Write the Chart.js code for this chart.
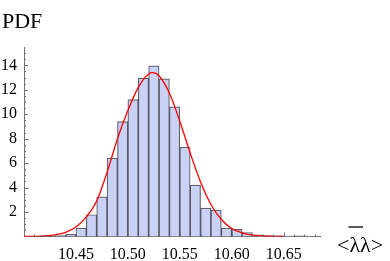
<!DOCTYPE html>
<html>
<head>
<meta charset="utf-8">
<script src="https://cdn.jsdelivr.net/npm/chart.js@4.4.1/dist/chart.umd.min.js"></script>
<style>
  html, body { margin: 0; padding: 0; background: #fff; }
  canvas { display: block; }
</style>
</head>
<body>
<canvas id="chart" width="390" height="261"></canvas>
<script>
// histogram bins (centre of each 0.01 wide bin) and heights
const binCenters = [10.435, 10.445, 10.455, 10.465, 10.475, 10.485, 10.495, 10.505, 10.515, 10.525,
  10.535, 10.545, 10.555, 10.565, 10.575, 10.585, 10.595, 10.605, 10.615, 10.625,
  10.635, 10.645, 10.655, 10.665, 10.675];
const binHeights = [0.08, 0.17, 0.68, 1.78, 3.24, 6.4, 9.4, 11.2, 12.95, 13.95,
  12.9, 10.6, 7.3, 4.2, 2.33, 2.15, 0.68, 0.58, 0.33, 0.14,
  0.08, 0.05, 0.04, 0.05, 0.04];

// fitted PDF curve
const curveX = [10.40, 10.41, 10.42, 10.43, 10.44, 10.45, 10.46, 10.47, 10.48, 10.49, 10.50, 10.51,
  10.52, 10.524, 10.53, 10.54, 10.55, 10.56, 10.57, 10.58, 10.59, 10.60, 10.61, 10.62, 10.63, 10.64, 10.65];
const curveY = [0.005, 0.016, 0.05, 0.14, 0.34, 0.78, 1.6, 2.9, 5.25, 8.0, 10.3, 12.2,
  13.3, 13.4, 13.15, 11.73, 9.43, 6.83, 4.46, 2.62, 1.39, 0.66, 0.29, 0.11, 0.04, 0.012, 0.004];

const xTicks = [10.45, 10.50, 10.55, 10.60, 10.65];
const yTicks = [2, 4, 6, 8, 10, 12, 14];

const serif = "'Liberation Serif', 'DejaVu Serif', serif";
const axisColor = "#707070";

// tick marks drawn inside the frame, plus the two axis labels
const decorations = {
  id: "decorations",
  afterDraw(chart) {
    const ctx = chart.ctx;
    const x = chart.scales.x, y = chart.scales.y;
    const left = chart.chartArea.left, bottom = chart.chartArea.bottom;
    ctx.save();
    ctx.strokeStyle = axisColor;
    ctx.lineWidth = 1;
    ctx.beginPath();
    for (let v = 0.5; v <= 15.01; v += 0.5) {
      const py = Math.round(y.getPixelForValue(v)) + 0.5;
      const len = Math.abs(v % 2) < 1e-6 ? 4 : 2;
      ctx.moveTo(left, py);
      ctx.lineTo(left + len, py);
    }
    for (let i = 41; i <= 68; i++) {
      const px = Math.round(x.getPixelForValue(10 + i / 100)) + 0.5;
      const len = i % 5 === 0 ? 4 : 2;
      ctx.moveTo(px, bottom);
      ctx.lineTo(px, bottom - len);
    }
    ctx.stroke();

    ctx.fillStyle = "#000";
    ctx.textBaseline = "alphabetic";
    ctx.textAlign = "left";
    ctx.font = "22px " + serif;
    ctx.fillText("PDF", 2, 28);

    ctx.font = "22px " + serif;
    const lx = 337, ly = 252;
    ctx.fillText("<λλ>", lx, ly);
    const w1 = ctx.measureText("<").width;
    const w2 = ctx.measureText("<λ").width;
    ctx.strokeStyle = "#000";
    ctx.lineWidth = 1.3;
    ctx.beginPath();
    ctx.moveTo(lx + w1 - 1, 227);
    ctx.lineTo(lx + w2 + 3, 227);
    ctx.stroke();
    ctx.restore();
  }
};

function noPadding(s) {
  s.paddingLeft = 0;
  s.paddingRight = 0;
  s.paddingTop = 0;
  s.paddingBottom = 0;
}

new Chart(document.getElementById("chart"), {
  type: "bar",
  data: {
    datasets: [
      {
        type: "line",
        data: curveX.map((v, i) => ({ x: v, y: curveY[i] })),
        borderColor: "#ff0000",
        borderWidth: 1.3,
        pointRadius: 0,
        cubicInterpolationMode: "monotone",
        order: 0
      },
      {
        type: "bar",
        data: binCenters.map((v, i) => ({ x: v, y: binHeights[i] })),
        backgroundColor: "#c9d1f4",
        borderColor: "rgba(45,45,60,0.75)",
        borderWidth: 1.2,
        barPercentage: 1,
        categoryPercentage: 1,
        order: 1
      }
    ]
  },
  options: {
    responsive: false,
    animation: false,
    devicePixelRatio: 1,
    layout: { padding: { top: 47, right: 70, left: 0, bottom: 0 } },
    plugins: { legend: { display: false }, tooltip: { enabled: false } },
    scales: {
      x: {
        type: "linear",
        offset: false,
        min: 10.40,
        max: 10.685,
        afterBuildTicks(s) { s.ticks = xTicks.map(v => ({ value: v })); },
        afterFit(s) { s.height = 24.5; noPadding(s); },
        grid: { display: false, drawTicks: false, offset: false },
        border: { display: true, color: axisColor, width: 1 },
        ticks: {
          font: { family: serif, size: 16 },
          color: "#000",
          padding: 9,
          maxRotation: 0,
          autoSkip: false,
          callback: v => v.toFixed(2)
        }
      },
      y: {
        min: 0,
        max: 15.5,
        afterBuildTicks(s) { s.ticks = yTicks.map(v => ({ value: v })); },
        afterFit(s) { s.width = 24; noPadding(s); },
        grid: { display: false, drawTicks: false },
        border: { display: true, color: axisColor, width: 1 },
        ticks: {
          font: { family: serif, size: 16 },
          color: "#000",
          padding: 7,
          autoSkip: false
        }
      }
    }
  },
  plugins: [decorations]
});
</script>
</body>
</html>
